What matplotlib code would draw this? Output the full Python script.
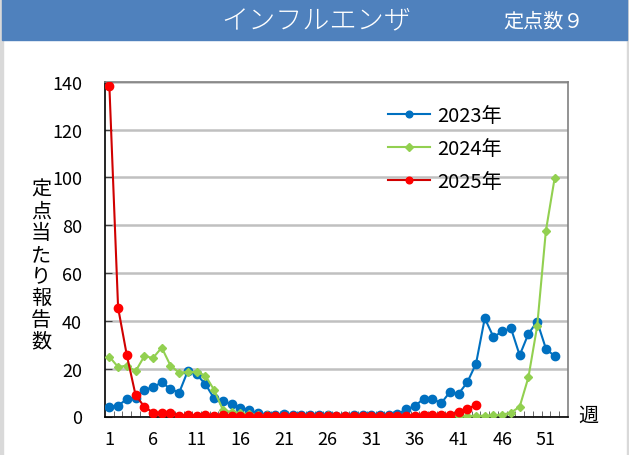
import numpy as np
import matplotlib
matplotlib.use('Agg')
import matplotlib.pyplot as plt
from matplotlib.patches import Rectangle
from matplotlib.ticker import MultipleLocator, FixedLocator

plt.rcParams['font.family'] = ['Noto Sans CJK JP', 'DejaVu Sans']

# Weekly per-sentinel reports
weeks_2023 = list(range(1, 53))
y2023 = [4.1, 4.5, 7.3, 7.9, 11.2, 12.2, 14.3, 11.5, 10.0, 19.2,
         17.6, 13.5, 7.6, 6.3, 5.2, 3.7, 2.7, 1.3, 0.6, 0.7,
         1.2, 0.7, 0.6, 0.5, 0.6, 0.5, 0.4, 0.3, 0.5, 0.5,
         0.6, 0.8, 0.7, 1.0, 3.0, 4.3, 7.5, 7.5, 5.5, 10.2,
         9.5, 14.3, 22.1, 41.1, 33.2, 35.6, 36.9, 25.6, 34.6, 39.7,
         28.4, 25.2]

weeks_2024 = list(range(1, 53))
y2024 = [25.0, 20.7, 21.3, 18.9, 25.2, 24.5, 28.8, 21.3, 18.3, 18.7,
         18.6, 17.1, 11.1, 2.8, 1.8, 1.3, 1.0, 0.6, 0.5, 0.4,
         0.3, 0.3, 0.4, 0.3, 0.4, 0.5, 0.4, 0.3, 0.3, 0.3,
         0.3, 0.2, 0.2, 0.3, 0.3, 0.2, 0.2, 0.3, 0.3, 0.2,
         0.2, 0.2, 0.3, 0.3, 0.5, 0.8, 1.6, 4.1, 16.4, 37.7,
         77.6, 99.6]

weeks_2025 = list(range(1, 44))
y2025 = [138.3, 45.5, 25.6, 9.0, 4.1, 1.6, 1.5, 1.6, 0.4, 0.8,
         0.4, 0.8, 0.4, 0.6, 0.4, 0.3, 0.3, 0.2, 0.2, 0.2,
         0.2, 0.2, 0.2, 0.2, 0.2, 0.2, 0.2, 0.2, 0.2, 0.2,
         0.3, 0.3, 0.4, 0.3, 0.3, 0.4, 0.5, 0.6, 0.6, 0.8,
         1.7, 3.1, 4.9]

xticklabels = [1, 6, 11, 16, 21, 26, 31, 36, 41, 46, 51]

fig = plt.figure(figsize=(6.29, 4.56), dpi=100)

# title bar
fig.add_artist(Rectangle((0, 0), 0.004, 1, transform=fig.transFigure, color='#d9d9d9', zorder=0))
fig.add_artist(Rectangle((0.997, 0), 0.003, 1, transform=fig.transFigure, color='#d9d9d9', zorder=0))
fig.add_artist(Rectangle((0.003, 1 - 41 / 456), 0.994, 41 / 456, transform=fig.transFigure,
                         color='#4f81bd', zorder=1))
fig.text(0.503, 1 - 20 / 456, 'インフルエンザ', color='white', fontsize=19.5,
         ha='center', va='center', fontweight='light')
fig.text(0.864, 1 - 22 / 456, '定点数９', color='white', fontsize=14.5,
         ha='center', va='center')

ax = fig.add_axes([105 / 629, 38.5 / 456, 462.7 / 629, 334.8 / 456])

ax.plot(weeks_2023, y2023, '-o', color='#0070c0', lw=1.5, markersize=6, label='2023年', zorder=3)
ax.plot(weeks_2024, y2024, '-D', color='#92d050', lw=1.5, markersize=4.5, label='2024年', zorder=4)
ax.plot(weeks_2025, y2025, '-o', color='#d00000', mfc='#ff0000', mec='#ff0000', lw=1.5,
        markersize=6, label='2025年', zorder=5)

ax.set_xlim(0.5, 53.5)
ax.set_ylim(0, 140)
ax.yaxis.set_major_locator(MultipleLocator(20))
ax.xaxis.set_major_locator(FixedLocator(xticklabels))
ax.xaxis.set_minor_locator(FixedLocator(np.arange(1.5, 53.5, 1)))
ax.set_xticklabels([str(v) for v in xticklabels])
ax.tick_params(axis='x', which='major', length=0, pad=10, labelsize=13)
ax.tick_params(axis='x', which='minor', direction='in', length=4, color='#505050')
ax.tick_params(axis='y', direction='in', length=5, pad=16.5, labelsize=13, color='#404040')
for lab in ax.get_yticklabels():
    lab.set_horizontalalignment('right')

ax.yaxis.grid(True, color='#c0c0c0', lw=1.8)
ax.set_axisbelow(True)
ax.spines['left'].set_color('black')
ax.spines['bottom'].set_color('black')
ax.spines['top'].set_color('#808080')
ax.spines['right'].set_color('#808080')
for s in ax.spines.values():
    s.set_linewidth(1.2)

leg = ax.legend(loc='upper left', bbox_to_anchor=(370 / 629, 1 - 88 / 456),
                bbox_transform=fig.transFigure, frameon=False, fontsize=14.5,
                handlelength=2.1, labelspacing=0.6, handletextpad=0.35, markerscale=0.8)

fig.text(41 / 629, 1 - 266 / 456, '\n'.join('定点当たり報告数'), fontsize=14.5,
         ha='center', va='center', linespacing=1.04)
fig.text(588 / 629, 1 - 416 / 456, '週', fontsize=14.5, ha='center', va='center')

fig.savefig('out.png', dpi=100)
